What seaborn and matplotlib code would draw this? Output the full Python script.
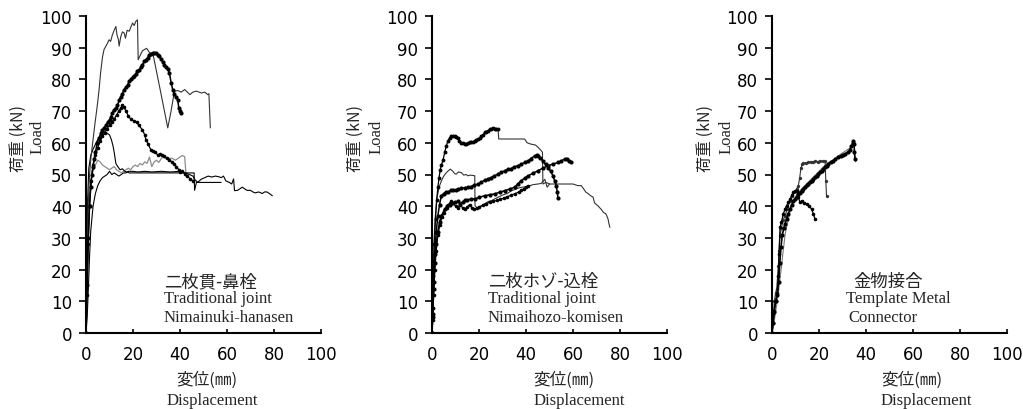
import numpy as np
import pandas as pd
import seaborn as sns
import matplotlib.pyplot as plt

# 荷重-変位曲線 (x: 変位 mm, y: 荷重 kN) — 図から読み取った値

# 二枚貫-鼻栓
nuki_a = np.array([[0, 0], [0.3, 18], [0.8, 38], [1.5, 50], [2.2, 56], [3.0, 61], [3.8, 66], [4.5, 70],
                   [5.0, 73], [5.6, 77], [6.2, 82], [7.0, 87], [7.7, 89.5], [8.5, 90.5], [9.2, 91.5],
                   [9.8, 92.5], [10.5, 92], [11.2, 94], [12.0, 95.5], [12.7, 96.7], [13.2, 94], [13.8, 92.5],
                   [14.1, 90.5], [14.8, 93.5], [15.5, 95], [16.2, 94.7], [16.8, 93], [17.5, 95.5], [18.4, 95.2],
                   [19.1, 96.5], [19.8, 97.8], [20.5, 97], [21.2, 98.3], [21.9, 98.8], [22.2, 86.2], [23.0, 87.5],
                   [24.0, 89], [24.8, 89.4], [25.8, 89.8], [27.0, 88.5], [28.5, 88], [31.5, 77], [34.8, 64.7],
                   [36.2, 70], [37.6, 76.2], [39.0, 76.5], [40.5, 76], [42.0, 76.8], [44.2, 75.2], [45.5, 76],
                   [47.0, 76.3], [49.2, 75.7], [50.5, 76], [51.8, 75.2], [52.3, 75.5], [52.9, 64.7]])
nuki_b = np.array([[0, 0], [0.5, 15], [1.0, 30], [1.5, 40], [2.0, 46], [2.5, 50], [3.0, 52.5], [3.5, 55],
                   [4.0, 57], [4.8, 60], [5.5, 61.5], [6.3, 63], [7.0, 64], [7.7, 64.7], [8.5, 65.5], [9.2, 66.5],
                   [10.0, 67.3], [10.5, 68], [11.2, 69.5], [12.0, 70.5], [12.7, 71], [13.4, 71.8], [14.1, 73.5],
                   [14.8, 74.5], [15.5, 75.5], [16.2, 76.8], [17.0, 77.5], [17.7, 78.3], [18.4, 79.5], [19.1, 80],
                   [19.8, 80.6], [20.5, 81.2], [21.2, 81.8], [21.9, 82.5], [22.6, 83], [23.3, 83.8], [24.0, 84.5],
                   [24.8, 85.7], [25.5, 86.2], [26.2, 86.8], [26.9, 87.8], [27.6, 88], [28.3, 88.3], [29.1, 88.3],
                   [29.8, 88.2], [30.5, 87.7], [31.2, 87.3], [31.9, 86.5], [32.6, 85.5], [33.3, 84.6], [34.0, 84],
                   [34.8, 83.3], [35.5, 82], [36.2, 79], [36.9, 76.8], [37.6, 75.5], [38.3, 74.5], [39.0, 73.6],
                   [39.5, 71], [40.0, 70], [40.5, 69.4]])
nuki_c = np.array([[0, 0], [0.4, 12], [0.9, 28], [1.5, 40], [2.2, 48], [3.0, 53], [4.0, 56], [5.0, 58.5],
                   [6.0, 60.5], [7.0, 62], [8.0, 63.2], [9.0, 64.5], [10.0, 65.5], [11.0, 66.5], [12.0, 67.5],
                   [13.0, 68.8], [14.0, 70], [14.8, 71], [15.5, 72], [16.2, 71.2], [17.0, 70], [18.0, 68.5],
                   [19.0, 67.5], [20.5, 66.8], [21.5, 66.5], [22.5, 65.5], [24.0, 64.1], [25.0, 62.5], [25.5, 61],
                   [26.5, 59.5], [27.6, 57.8], [28.5, 57.5], [29.5, 57], [30.5, 56.2], [31.6, 56.5], [32.5, 56],
                   [33.4, 55.8], [34.5, 55.2], [35.5, 54.5], [36.5, 54], [37.5, 53.2], [38.5, 52.5], [39.5, 51.5],
                   [40.2, 50.7], [41.0, 51], [42.0, 50.2], [43.0, 49.5], [44.4, 48.6], [45.5, 48]])
nuki_d = np.array([[0, 0], [0.3, 22], [0.7, 42], [1.2, 52], [2.0, 56], [3.0, 58], [4.0, 59.5], [5.0, 61],
                   [6.0, 62], [7.0, 63], [8.0, 63.5], [9.0, 63], [10.0, 62.5], [10.8, 61], [11.5, 59], [12.0, 57],
                   [12.7, 53.5], [13.5, 52.5], [14.5, 51.5], [15.5, 51.8], [16.5, 51], [18.5, 50.5], [25, 50.5],
                   [30, 50.5], [35, 50.5], [40, 50.5], [43, 50.5], [46.0, 50.5], [46.2, 45], [47.0, 47.5],
                   [50.0, 47.5], [54.0, 47.5], [57.5, 47.5]])
nuki_e = np.array([[0, 0], [0.4, 15], [0.8, 30], [1.3, 42], [2.0, 48], [3.0, 51], [4.0, 53], [5.0, 54.5],
                   [6.0, 54], [7.0, 53], [8.0, 52.5], [9.0, 52], [10.0, 51.5], [11.0, 52], [12.0, 52.5], [13.0, 51.5],
                   [14.0, 51], [15.0, 50.5], [16.0, 51], [17.0, 51.5], [18.0, 52], [19.0, 51.5], [20.0, 52.5],
                   [21.0, 53], [22.0, 52.5], [23.0, 53.5], [24.0, 53], [25.0, 54], [26.0, 53.5], [27.0, 55.5],
                   [28.0, 52.5], [29.0, 54], [30.0, 54.5], [31.0, 53.8], [32.0, 55], [33.0, 55.6], [34.0, 55],
                   [35.0, 54.8], [36.0, 55.2], [37.0, 55], [38.0, 54.5], [39.0, 55], [40.0, 55.5], [41.0, 56],
                   [42.0, 55.6], [42.6, 49.6], [43.0, 50]])
nuki_f = np.array([[0, 0], [0.5, 5], [1.0, 14], [1.5, 24], [2.0, 32], [3.0, 40], [4.0, 44], [5.0, 46.5],
                   [6.0, 48], [7.0, 49], [8.0, 49.5], [9.0, 50], [10.0, 51], [11.0, 50], [12.0, 50.5], [13.0, 50],
                   [14.0, 49.5], [15.0, 50], [16.0, 50.5], [17.0, 50.5], [18.0, 51], [20.0, 51], [22.0, 50.8],
                   [25.0, 51], [28.0, 50.8], [32.0, 51], [36.0, 50.8], [40.0, 51], [42.0, 50.5], [44.0, 50],
                   [45.5, 49.5], [46.2, 48.5], [47.5, 47.5], [49.0, 48.5], [50.5, 49], [52.0, 49.5], [53.5, 49.2],
                   [55.0, 49.5], [56.5, 49.3], [57.5, 49], [58.5, 49.5], [59.5, 48], [61.0, 47.5], [62.0, 47],
                   [62.8, 48.6], [63.2, 44.9], [64.5, 45], [65.5, 45.5], [66.5, 46], [67.5, 45.5], [68.5, 45],
                   [70.0, 45], [71.0, 44.5], [72.0, 44.2], [73.5, 44.5], [75.0, 44], [76.0, 44.5], [77.0, 44.5],
                   [78.0, 44], [79.3, 43.3]])

# 二枚ホゾ-込栓
hozo_a = np.array([[0, 0], [0.3, 8], [0.6, 18], [1.0, 28], [1.5, 36], [2.0, 42], [2.5, 46], [3.0, 49],
                   [3.5, 51.5], [4.0, 53], [4.7, 54.5], [5.4, 57], [6.1, 59], [6.8, 60.7], [7.5, 61.5], [8.2, 62],
                   [8.9, 62.3], [9.6, 62.1], [10.3, 61.8], [11.0, 61.5], [11.7, 60.5], [12.4, 60], [13.1, 59.8],
                   [13.9, 59.6], [14.6, 59.5], [15.3, 59.8], [16.0, 60.1], [16.7, 60.1], [17.4, 60.3], [18.1, 60.6],
                   [18.8, 61], [19.6, 61.2], [20.3, 61.5], [21.0, 62], [21.7, 62.5], [22.4, 63.3], [23.1, 63.5],
                   [23.8, 63.8], [24.5, 64.2], [25.2, 64.4], [25.9, 64.6], [26.6, 64.5], [27.3, 64.5], [28.1, 64.4]])
hozo_a_tail = np.array([[28.1, 64.4], [28.4, 61.2], [32, 61.2], [36, 61.2], [39.4, 61.2], [40.5, 60], [42, 59.6],
                        [44, 59.3], [45.1, 58.6], [46.5, 57.5], [47.0, 57], [47.2, 47], [48.5, 47.5], [50, 47],
                        [52, 47], [54, 47], [56, 47], [58, 47], [60, 47], [62, 46.5], [63.5, 46.5], [64.5, 45.5],
                        [65.5, 44.4], [66.4, 44], [67.5, 43.3], [68.5, 42.9], [69.2, 41], [70.5, 40.2], [72.0, 39],
                        [73.0, 38], [74.0, 37.6], [74.9, 36], [75.3, 34.5], [75.7, 33.3]])
hozo_b = np.array([[0, 0], [0.4, 15], [0.8, 28], [1.3, 36], [2, 42], [3, 46], [4, 48], [5, 49.5], [6, 50.5],
                   [7, 51.2], [7.8, 51.7], [8.9, 51], [9.6, 50.3], [10.3, 50.1], [11.2, 50.8], [12.5, 50.6],
                   [13.5, 49.8], [14.5, 50], [15.3, 49.6], [16.5, 49.8], [18.2, 49.6], [18.3, 40.2], [19.6, 39],
                   [21, 40], [22.5, 40.8], [24, 41.5], [25.5, 41.8], [26.7, 42.3], [28, 42.8], [30, 43.5], [32, 44],
                   [33.8, 44.9], [35.5, 45.3], [37, 45.8], [38.5, 46], [40.9, 46.3], [43, 46.8], [45.1, 47],
                   [46.5, 47.2], [48, 48.5], [49, 46], [50, 47]])
hozo_c = np.array([[0, 0], [0.3, 6], [0.7, 16], [1.2, 25], [1.8, 32], [2.5, 37], [3.2, 40.5], [4, 43.3],
                   [5, 44], [6, 44.5], [6.8, 44.4], [8, 45], [9, 45.2], [10, 45], [11.1, 45.4], [12.5, 45.6],
                   [14, 45.8], [15.3, 46], [16.5, 46.2], [18, 46.6], [19.6, 47], [21, 47.6], [22.5, 48.2],
                   [23.8, 48.6], [25, 49], [26.5, 49.6], [28.1, 50.1], [29.5, 50.7], [31, 51.2], [32.3, 51.7],
                   [33.5, 51.8], [35, 52.4], [36.6, 52.8], [38, 53.3], [39.5, 53.8], [40.9, 54.3], [42, 55],
                   [43.7, 55.9], [44.5, 56.1], [45.1, 55.9], [46, 55.2], [47.2, 54.3], [48.3, 53.2], [49.4, 52.2],
                   [50.5, 51], [51.5, 49.6], [52.2, 48], [52.9, 46.4], [53.3, 44.5], [53.6, 42.7]])
hozo_d = np.array([[0, 0], [0.3, 5], [0.7, 14], [1.2, 22], [1.8, 28], [2.5, 32], [3.2, 35], [4, 37],
                   [5.4, 39.1], [6.5, 40], [7.5, 40.5], [8.5, 41], [9.7, 41.2], [11, 41.5], [12, 40.8], [13, 41.3],
                   [13.9, 41.8], [15, 42], [16.5, 42.2], [18.2, 42.3], [20, 42.8], [22.4, 43.3], [24.5, 43.6],
                   [26.7, 43.9], [28.8, 44.4], [30.9, 44.9], [33, 45.4], [35.2, 46], [36.5, 47], [38, 48.1],
                   [39.5, 48.9], [40.9, 49.6], [43, 50.4], [45.1, 51.2], [47.2, 52], [49.4, 52.8], [51.5, 53.3],
                   [53.6, 53.8], [55, 54.3], [56.5, 54.9], [57.5, 55], [58.5, 54.3], [59.3, 53.8]])
hozo_e = np.array([[0, 0], [0.3, 4], [0.7, 12], [1.2, 20], [1.8, 26], [2.5, 31], [3.3, 34], [4.2, 36.5],
                   [5.2, 38], [6.2, 39.5], [7, 40.5], [8, 41.5], [9, 41], [10, 40], [11, 39.5], [12, 40.5],
                   [13, 39.5], [14, 39], [15, 39.8], [16, 40.5], [17, 39.5], [18, 39], [19, 39.3], [20, 39.8],
                   [21.5, 40.3], [23, 40.8], [24.5, 41.2], [26, 41.5], [27.5, 41.8], [29, 42.2], [30.5, 42.5],
                   [32, 43], [33.8, 43.5], [35.5, 44], [37, 44.5], [38, 45], [39, 45.5], [40.2, 46], [41, 46.5]])

# 金物接合
metal_a = np.array([[0, 0], [0.3, 3], [0.6, 6], [1, 10], [1.5, 12.5], [2, 14], [2.4, 18], [2.7, 21.2],
                    [3, 26], [3.4, 30.7], [4, 33], [4.7, 35.5], [5.5, 37], [6.5, 39], [7.5, 41.5], [8.4, 43.3],
                    [9.5, 44.5], [10.5, 45.5], [11.2, 46.5], [11.8, 49], [12.3, 52], [12.8, 53.2], [13.3, 53.5],
                    [14.5, 53.6], [15.5, 53.8], [16.5, 54], [17.5, 54], [18.5, 54.2], [19.5, 54.1], [20.5, 54.3],
                    [21.5, 54.3], [22.6, 54.2], [22.9, 48], [23.2, 43.2]])
metal_b = np.array([[0, 0], [0.5, 3], [1, 7], [1.6, 10], [2.2, 12.5], [2.7, 18], [3, 25], [3.4, 33.3],
                    [4, 35], [4.8, 37.5], [5.5, 39], [6.2, 40.2], [7, 41.2], [7.7, 42.2], [8.4, 43.5], [9.1, 44.4],
                    [9.8, 44.8], [10.5, 44.9], [11.2, 43], [11.9, 41.2], [12.8, 41.5], [13.8, 41], [14.8, 40.7],
                    [15.8, 40], [16.9, 39.1], [17.6, 37.5], [18.3, 36]])
metal_c = np.array([[0, 0], [0.4, 3], [0.9, 6.5], [1.5, 10], [2.2, 12], [2.8, 16], [3.3, 22], [3.8, 27],
                    [4.4, 31], [5, 33], [5.6, 34.5], [6.2, 36], [6.9, 37.5], [7.7, 39.1], [8.4, 40.5], [9.1, 41.5],
                    [9.8, 42.3], [10.5, 43], [11.2, 43.7], [11.9, 44.3], [12.6, 44.9], [13.3, 45.5], [14, 46.1],
                    [14.8, 46.6], [15.5, 47], [16.2, 47.6], [16.9, 48.1], [17.6, 48.6], [18.3, 49.1], [19, 49.6],
                    [19.7, 50.2], [20.4, 50.7], [21.1, 51.2], [21.8, 51.8], [22.5, 52.3], [23.2, 52.8], [24, 53.3],
                    [25, 53.8], [26, 54.4], [27, 54.8], [28.2, 55.4], [29.2, 55.9], [30.2, 56.3], [31.2, 56.6],
                    [32.5, 57], [33.2, 57.8], [33.8, 59], [34.3, 59.8], [34.6, 60.7], [34.9, 59.5], [35.1, 57],
                    [35.3, 55]])
metal_d = np.array([[0, 0], [0.5, 2], [1, 4], [1.6, 7], [2.2, 10], [2.7, 12.8], [3.2, 16], [3.7, 19],
                    [4.1, 21.2], [4.6, 25], [5.1, 28], [5.5, 30.7], [6.2, 33.5], [7, 36], [7.7, 38.5], [8.4, 40.2],
                    [9.2, 41.8], [10, 43], [12, 45], [14, 46.5], [16, 48], [18, 49.5], [20, 51], [22, 52.5],
                    [24, 53.8], [26, 54.5], [28, 55.8], [30, 56.8], [32, 57.8], [33.5, 58.5], [34.5, 60], [35, 59],
                    [35.3, 55.5], [35.6, 54]])

titles_jp = ['二枚貫-鼻栓', '二枚ホゾ-込栓', '金物接合']
titles_en = [['Traditional joint', 'Nimainuki-hanasen'],
             ['Traditional joint', 'Nimaihozo-komisen'],
             ['Template Metal', 'Connector']]

W, H = 1023, 410

sns.set_style("ticks")
plt.rcParams['font.family'] = ['DejaVu Sans', 'Noto Sans CJK JP']
JP = ['Noto Sans CJK JP', 'DejaVu Sans']
SERIF = ['Liberation Serif', 'DejaVu Serif']

fig = plt.figure(figsize=(W / 100, H / 100), dpi=100)


def draw(ax, pts, color='black', lw=0.8, ms=0):
    df = pd.DataFrame(pts, columns=['disp', 'load'])
    kw = dict(marker='o', markersize=ms, markeredgewidth=0, markerfacecolor=color) if ms else {}
    sns.lineplot(data=df, x='disp', y='load', sort=False, estimator=None,
                 color=color, lw=lw, ax=ax, **kw)


# 各パネルの曲線 (データ, 色, 線幅, マーカー径)
panel_curves = [
    [(nuki_f, 'black', 0.8, 0), (nuki_e, '#8c8c8c', 0.9, 0), (nuki_d, 'black', 0.8, 0),
     (nuki_a, '#333333', 0.8, 0), (nuki_c, 'black', 0.9, 2.6), (nuki_b, 'black', 1.1, 3.0)],
    [(hozo_b, '#333333', 0.8, 0), (hozo_a_tail, '#333333', 0.8, 0), (hozo_a, 'black', 0.9, 2.8),
     (hozo_e, 'black', 0.9, 2.6), (hozo_d, 'black', 1.1, 3.0), (hozo_c, 'black', 1.1, 3.0)],
    [(metal_d, '#777777', 0.8, 0), (metal_a, '#333333', 0.8, 2.4), (metal_b, 'black', 0.9, 2.6),
     (metal_c, 'black', 1.2, 3.0)],
]

ax_left = [86, 432, 772]        # x=0 の位置 (px)
ax_w = 235
ax_top, ax_bottom = 17, 334
xlab_c = [207, 564, 912]
disp_c = [212, 579, 926]
ylab_x = [18, 355, 705]
load_x = [38, 377, 727]
jp_x = [(33, 16.4), (23.8, 16.4), (34.5, 16.4)]
en_x = [[33, 33], [23.8, 23.8], [31.5, 32.3]]

for i in range(3):
    ax = fig.add_axes([ax_left[i] / W, 1 - ax_bottom / H, ax_w / W, (ax_bottom - ax_top) / H])
    for pts, col, lw, ms in panel_curves[i]:
        draw(ax, pts, col, lw, ms)
    ax.set_xlim(0, 100)
    ax.set_ylim(0, 100)
    ax.set_xticks(range(0, 101, 20))
    ax.set_yticks(range(0, 101, 10))
    ax.set_xlabel('')
    ax.set_ylabel('')
    sns.despine(ax=ax)
    for s in ['left', 'bottom']:
        ax.spines[s].set_linewidth(1.5)
        ax.spines[s].set_color('black')
    ax.tick_params(axis='y', direction='out', length=5, width=1.2, pad=5, labelsize=12, colors='black')
    ax.tick_params(axis='x', direction='in', length=3, width=1.2, pad=9, labelsize=12, colors='black')

    ax.text(jp_x[i][0], jp_x[i][1], titles_jp[i], fontsize=12.5, family=JP, va='center', ha='left')
    ax.text(en_x[i][0], 11, titles_en[i][0], fontsize=12, family=SERIF, va='center', ha='left')
    ax.text(en_x[i][1], 5, titles_en[i][1], fontsize=12, family=SERIF, va='center', ha='left')

    fig.text(xlab_c[i] / W, 1 - 380 / H, '変位(㎜)', fontsize=12, family=JP, ha='center', va='center')
    fig.text(disp_c[i] / W, 1 - 401 / H, 'Displacement', fontsize=12, family=SERIF, ha='center', va='center')
    fig.text(ylab_x[i] / W, 1 - 139 / H, '荷重 (kN)', fontsize=11.5, family=JP, rotation=90,
             ha='center', va='center')
    fig.text(load_x[i] / W, 1 - 137 / H, 'Load', fontsize=12, family=SERIF, rotation=90,
             ha='center', va='center')

fig.savefig('out.png', dpi=100)
